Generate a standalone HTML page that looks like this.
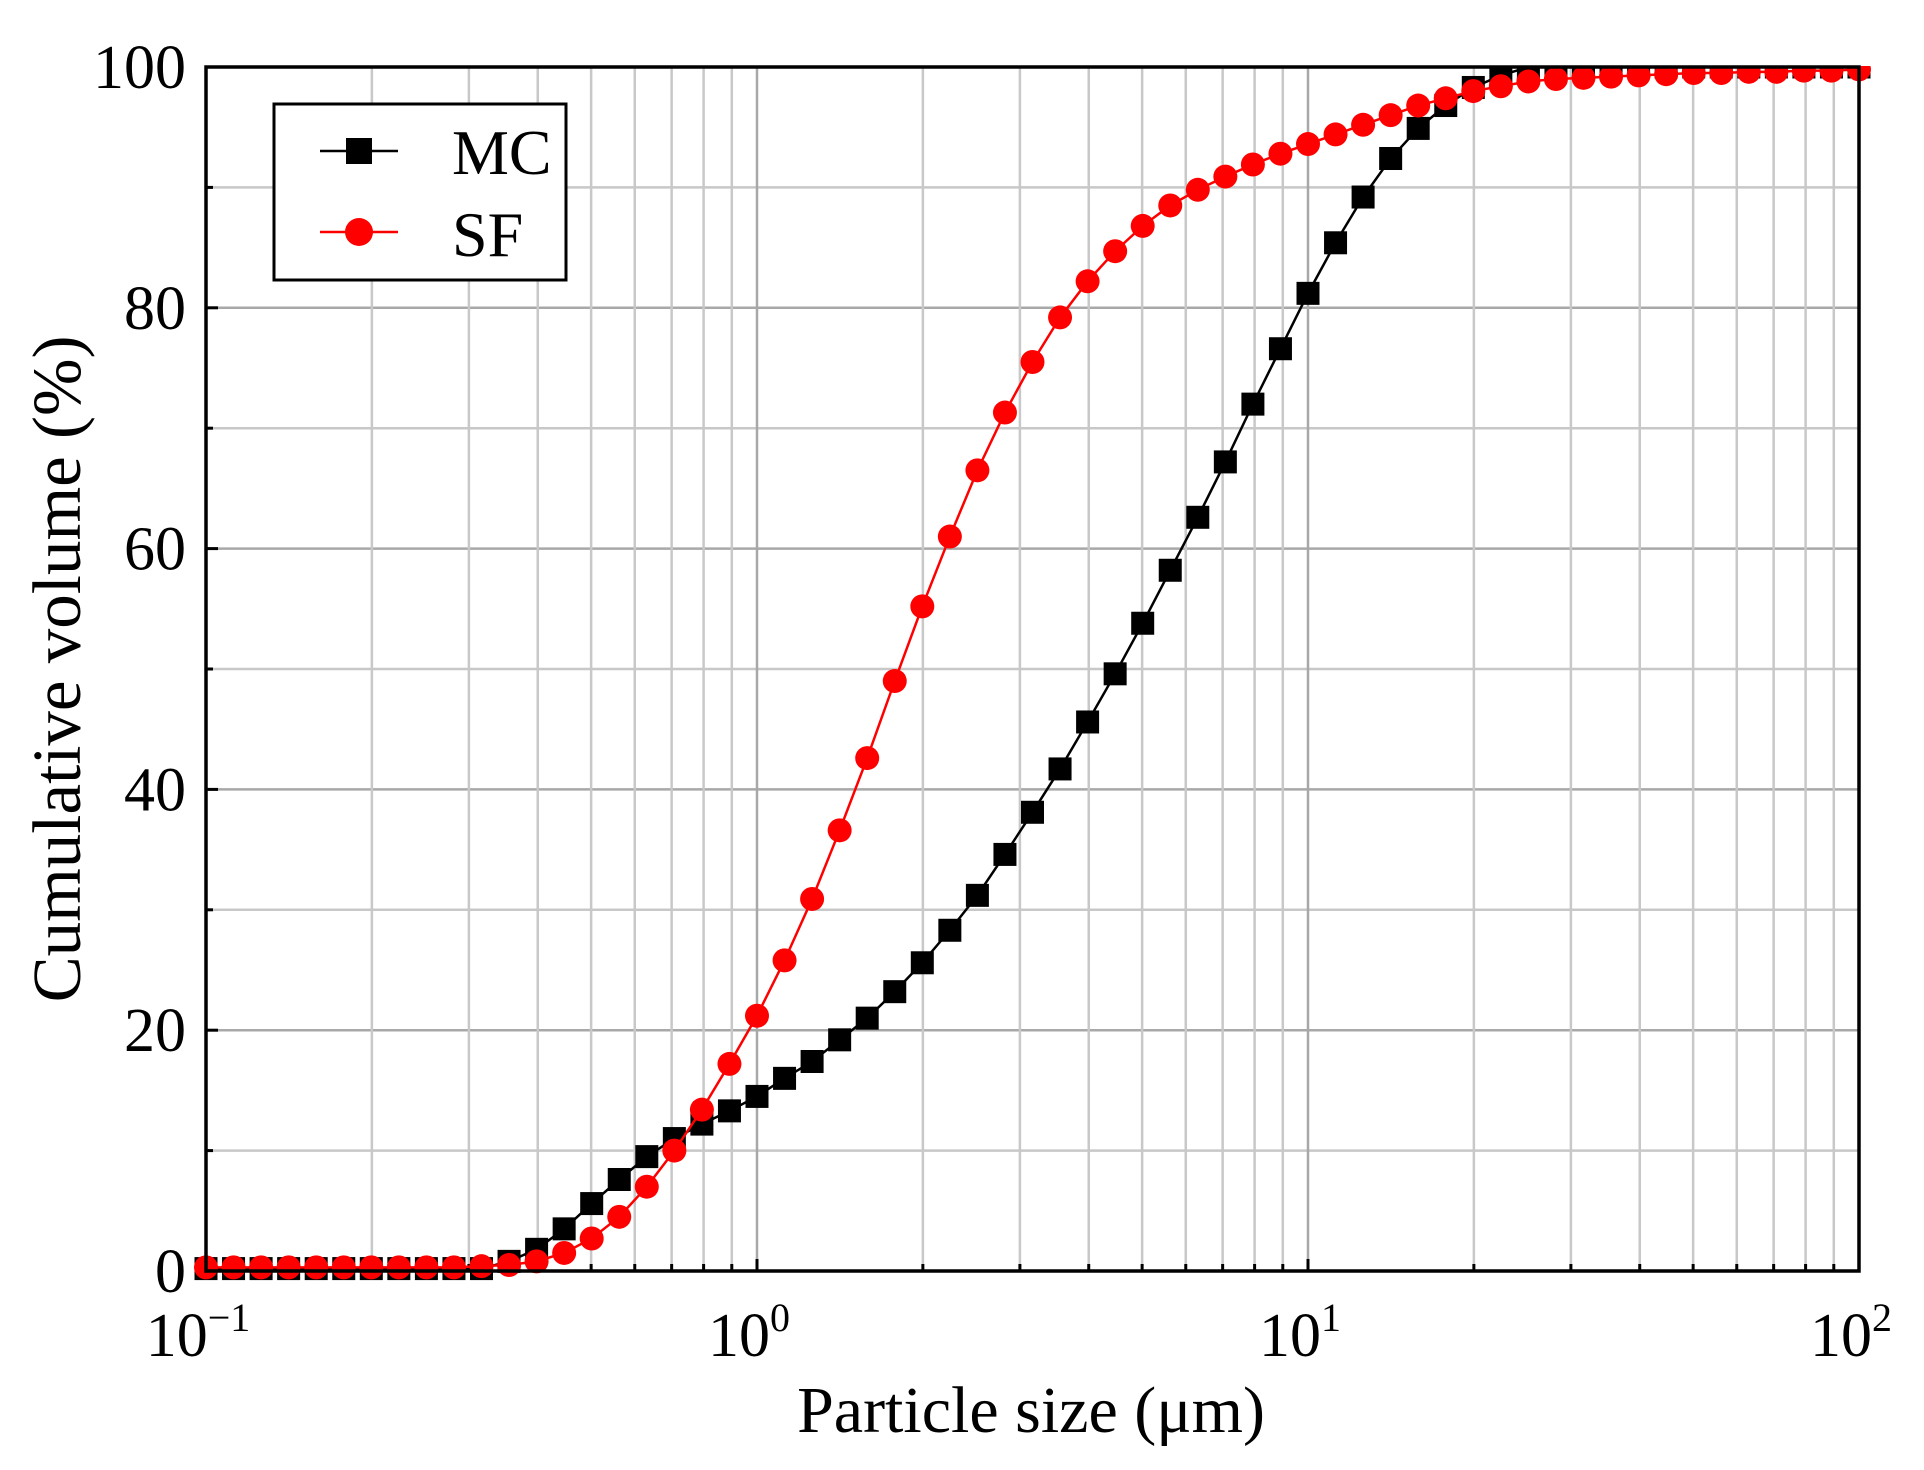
<!DOCTYPE html>
<html><head><meta charset="utf-8"><style>
html,body{margin:0;padding:0;background:#fff;}
svg{display:block;}
text{font-family:"Liberation Serif",serif;fill:#000;}
</style></head><body>
<svg id="c" width="1924" height="1470" xmlns="http://www.w3.org/2000/svg"></svg>
<script>
const L=206,R=1859,T=67,B=1271;
const X=v=>L+(Math.log10(v)+1)*(R-L)/3;
const Y=v=>B-v*(B-T)/100;
let s='';
for(let v=10;v<100;v+=10){s+=`<line x1="${L}" x2="${R}" y1="${Y(v)}" y2="${Y(v)}" stroke="${v%20?'#c8c8c8':'#a8a8a8'}" stroke-width="2.5"/>`;}
for(let d=-1;d<2;d++)for(let m=1;m<10;m++){const x=X(m*Math.pow(10,d));if(m==1&&d==-1)continue;
s+=`<line x1="${x}" x2="${x}" y1="${T}" y2="${B}" stroke="${m==1?'#a8a8a8':'#c8c8c8'}" stroke-width="2.5"/>`;
s+=`<line x1="${x}" x2="${x}" y1="${B}" y2="${B-(m==1?12:7)}" stroke="#000" stroke-width="3"/>`;}
for(let v=0;v<=100;v+=10){s+=`<line x1="${L}" x2="${L+(v%20?7:12)}" y1="${Y(v)}" y2="${Y(v)}" stroke="#000" stroke-width="3"/>`;}
const mc=[];const sf=[];
const mcv={"-9":0.8,"-8":1.8,"-7":3.5,"-6":5.6,"-5":7.6,"-4":9.5,"-3":11,"-2":12.2,"-1":13.3,0:14.5,1:16,2:17.4,3:19.2,4:21,5:23.2,6:25.6,7:28.3,8:31.2,9:34.6,10:38.1,11:41.7,12:45.6,13:49.6,14:53.8,15:58.2,16:62.6,17:67.2,18:72,19:76.6,20:81.2,21:85.4,22:89.2,23:92.4,24:94.9,25:96.8,26:98.3,27:99.3};
const sfv={"-10":0.4,"-9":0.5,"-8":0.8,"-7":1.5,"-6":2.7,"-5":4.5,"-4":7,"-3":10,"-2":13.4,"-1":17.2,0:21.2,1:25.8,2:30.9,3:36.6,4:42.6,5:49,6:55.2,7:61,8:66.5,9:71.3,10:75.5,11:79.2,12:82.2,13:84.7,14:86.8,15:88.5,16:89.8,17:90.9,18:91.9,19:92.8,20:93.6,21:94.4,22:95.2,23:96,24:96.8,25:97.4,26:98,27:98.4,28:98.8,29:99,30:99.1,31:99.2,32:99.3,33:99.4,34:99.5,35:99.5,36:99.6,37:99.6,38:99.7,39:99.7,40:99.8};
for(let k=-20;k<=40;k++){const x=X(Math.pow(10,k/20));
mc.push([x,Y(mcv[k]!==undefined?mcv[k]:(k<0?0.2:100))]);
sf.push([x,Y(sfv[k]!==undefined?sfv[k]:0.3)]);}
s+=`<polyline fill="none" stroke="#000" stroke-width="2.5" points="${mc.map(p=>p.join(',')).join(' ')}"/>`;
mc.forEach(p=>{s+=`<rect x="${p[0]-11.5}" y="${p[1]-11.5}" width="23" height="23" fill="#000"/>`;});
s+=`<polyline fill="none" stroke="#f00" stroke-width="2.5" points="${sf.map(p=>p.join(',')).join(' ')}"/>`;
sf.forEach(p=>{s+=`<circle cx="${p[0]}" cy="${p[1]}" r="12" fill="#f00"/>`;});
s+=`<rect x="0" y="0" width="1924" height="${T-1}" fill="#fff"/>`;
s+=`<rect x="${L}" y="${T}" width="${R-L}" height="${B-T}" fill="none" stroke="#000" stroke-width="3.5"/>`;
for(let v=0;v<=100;v+=20)s+=`<text x="186" y="${Y(v)+21}" font-size="62" text-anchor="end">${v}</text>`;
[-1,0,1,2].forEach(e=>{const x=X(Math.pow(10,e));s+=`<text x="${x-8}" y="1356" font-size="62" text-anchor="middle">10<tspan dy="-25" font-size="40">${e==-1?'−1':e}</tspan></text>`;});
s+=`<text x="1031" y="1432" font-size="66" text-anchor="middle">Particle size (μm)</text>`;
s+=`<text transform="translate(80,669) rotate(-90)" font-size="69" text-anchor="middle">Cumulative volume (%)</text>`;
s+=`<rect x="274" y="104" width="292" height="176" fill="#fff" stroke="#000" stroke-width="3"/>`;
s+=`<line x1="320" x2="398" y1="151" y2="151" stroke="#000" stroke-width="2.5"/><rect x="346" y="138" width="26" height="26" fill="#000"/>`;
s+=`<line x1="320" x2="398" y1="232" y2="232" stroke="#f00" stroke-width="2.5"/><circle cx="359" cy="232" r="14" fill="#f00"/>`;
s+=`<text x="452" y="174" font-size="64">MC</text><text x="452" y="256" font-size="64">SF</text>`;
document.getElementById('c').innerHTML=s;
</script>
</body></html>
